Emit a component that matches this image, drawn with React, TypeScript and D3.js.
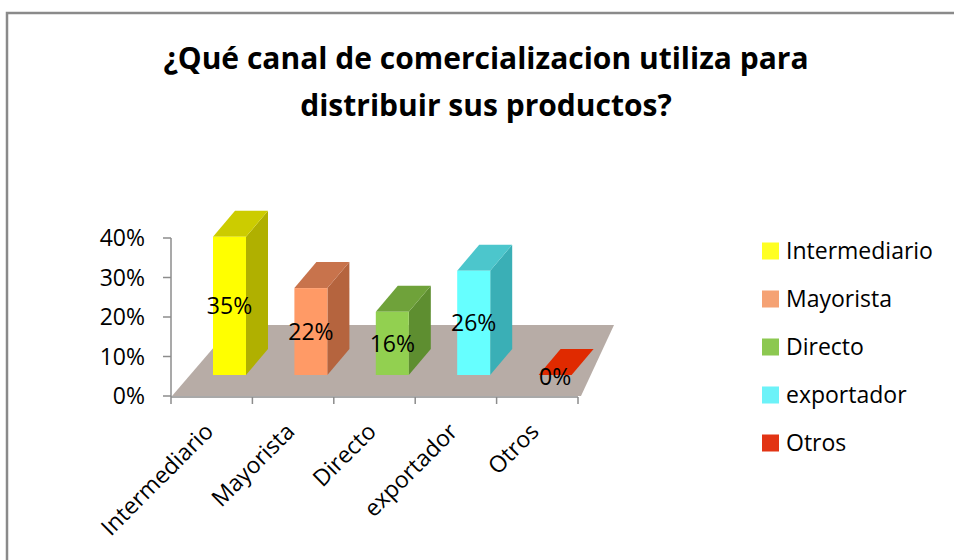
import React from "react";
import * as d3 from "d3";

const categories = ["Intermediario", "Mayorista", "Directo", "exportador", "Otros"];
const values = [0.35, 0.22, 0.16, 0.264, 0];
const yTicks = [0, 0.1, 0.2, 0.3, 0.4];
const frontColors = ["#FFFF00", "#FF9A66", "#92D050", "#66FFFF", "#FF3300"];
const topColors = ["#CCCC00", "#C8734C", "#6FA23A", "#4CC6CC", "#E02A00"];
const sideColors = ["#B0B000", "#B5643E", "#5E8E30", "#3AAFB6", "#C02200"];
const legendColors = ["#FFFF22", "#F5A274", "#8CC850", "#6CF2F8", "#E23414"];
const title = ["¿Qué canal de comercializacion utiliza para", "distribuir sus productos?"];

const FONT = "'Open Sans', 'Noto Sans', sans-serif";

export default function App() {
  const x0 = 171, x1 = 578;
  const y = d3.scaleLinear().domain([0, 0.4]).range([396, 238]);
  const x = d3.scaleBand<string>().domain(categories).range([x0, x1]).paddingInner(0).paddingOuter(0);
  const bw = x.bandwidth();
  const barW = 33;
  const shiftX = 42 - (bw - barW) / 2;
  const baseY = 375;
  const ddx = 22, ddy = -26;
  const fmt = d3.format(".0%");

  const floor = [
    [x0 + 1, 396],
    [x1 + 3, 396],
    [x1 + 36, 325],
    [x0 + 62, 325],
  ];

  return (
    <svg width={954} height={560} style={{ position: "absolute", left: 0, top: 0, background: "#fff" }}>
      <rect x={0} y={0} width={954} height={560} fill="#fff" />
      <path d="M7,560 L7,13 L954,13" fill="none" stroke="#8a8a8a" strokeWidth={2.5} />
      {title.map((t, i) => (
        <text key={i} x={486} y={69 + i * 47} textAnchor="middle" fontFamily={FONT} fontWeight="bold" fontSize={30} fill="#000">
          {t}
        </text>
      ))}
      <path d={d3.line()(floor as [number, number][]) + "Z"} fill="#B7ACA6" />
      <line x1={x0} x2={x0} y1={y(0.4)} y2={y(0) + 1} stroke="#8c8c8c" strokeWidth={1.5} />
      {yTicks.map((t) => (
        <g key={t}>
          <line x1={x0 - 8} x2={x0} y1={y(t)} y2={y(t)} stroke="#8c8c8c" strokeWidth={1.5} />
          <text x={145} y={y(t)} dy="0.36em" textAnchor="end" fontFamily={FONT} fontSize={23} fill="#000">
            {fmt(t)}
          </text>
        </g>
      ))}
      <line x1={x0} x2={x1} y1={y(0) + 1} y2={y(0) + 1} stroke="#8c8c8c" strokeWidth={1.5} />
      {[...categories.map((c) => x(c) as number), x1].map((px, i) => (
        <line key={i} x1={px} x2={px} y1={y(0) + 1} y2={y(0) + 8} stroke="#8c8c8c" strokeWidth={1.5} />
      ))}
      {categories.map((c) => {
        const cx = (x(c) as number) + bw / 2 + 3;
        return (
          <text key={c} x={cx} y={433} transform={`rotate(-45 ${cx} 433)`} textAnchor="end" fontFamily={FONT} fontSize={23} fill="#000">
            {c}
          </text>
        );
      })}
      {categories.map((c, i) => {
        const left = (x(c) as number) + (bw - barW) / 2 + shiftX;
        const h = y(0) - y(values[i]);
        const top = baseY - h;
        const right = left + barW;
        const topFace = `M${left},${top} L${right},${top} L${right + ddx},${top + ddy} L${left + ddx},${top + ddy} Z`;
        const sideFace = `M${right},${top} L${right + ddx},${top + ddy} L${right + ddx},${baseY + ddy} L${right},${baseY} Z`;
        return (
          <g key={c}>
            {h > 0 && <path d={sideFace} fill={sideColors[i]} />}
            <path d={topFace} fill={topColors[i]} />
            {h > 0 && <rect x={left} y={top} width={barW} height={h} fill={frontColors[i]} />}
          </g>
        );
      })}
      {categories.map((c, i) => {
        const left = (x(c) as number) + (bw - barW) / 2 + shiftX;
        const h = y(0) - y(values[i]);
        const cy = h > 0 ? baseY - h / 2 : baseY + 2;
        return (
          <text key={c} x={left + barW / 2} y={cy} dy="0.36em" textAnchor="middle" fontFamily={FONT} fontSize={23} fill="#000">
            {fmt(values[i])}
          </text>
        );
      })}
      {categories.map((c, i) => (
        <g key={c} transform={`translate(762, ${251 + i * 48})`}>
          <rect x={0} y={-8.5} width={17} height={17} fill={legendColors[i]} />
          <text x={24} y={0} dy="0.36em" fontFamily={FONT} fontSize={23} fill="#000">
            {c}
          </text>
        </g>
      ))}
    </svg>
  );
}
